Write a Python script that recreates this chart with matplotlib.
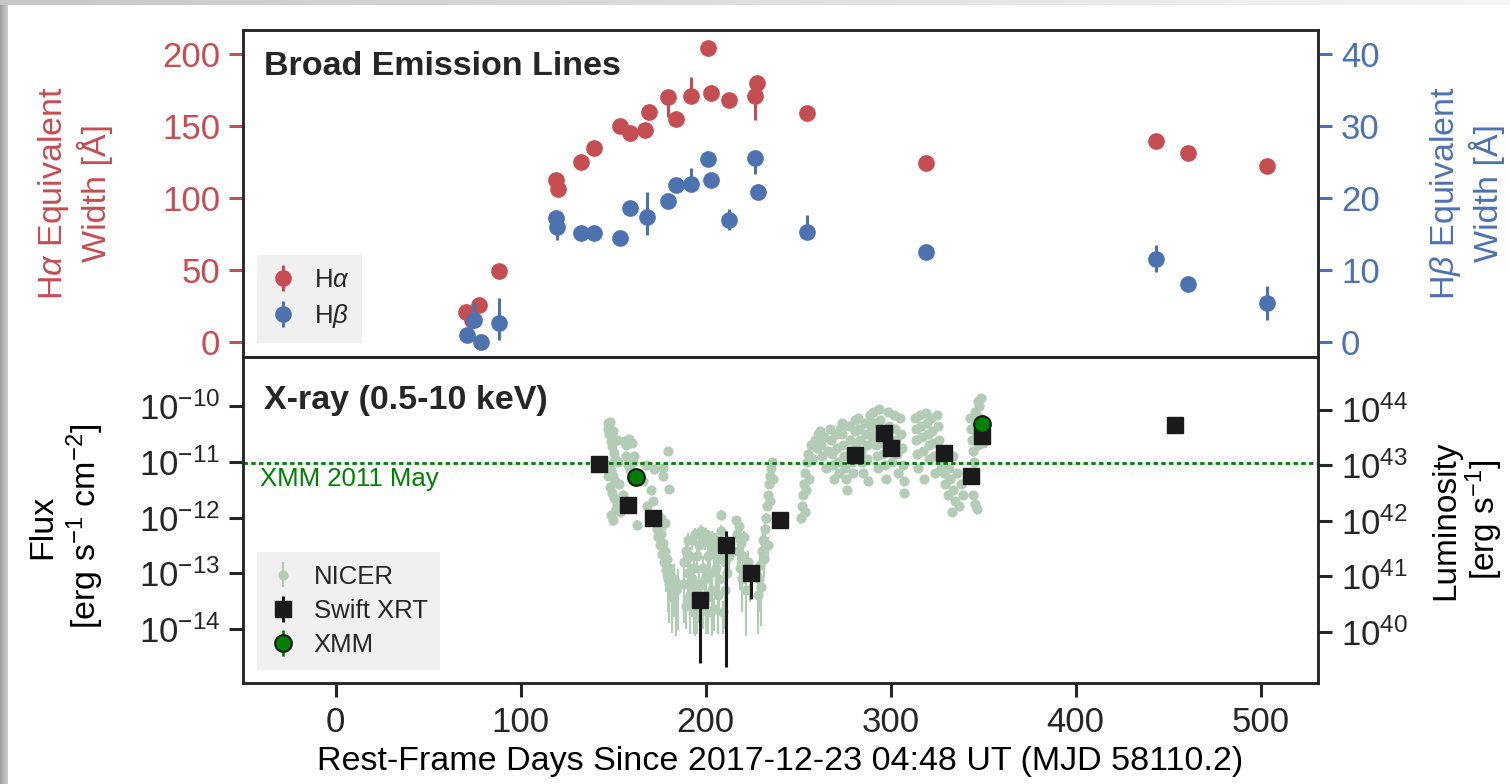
import numpy as np
import matplotlib
matplotlib.use("Agg")
import matplotlib.pyplot as plt
from matplotlib.ticker import FixedLocator, NullLocator

# ---------------- Broad emission lines ----------------
# rest-frame days, equivalent width [A], lower / upper error
ha_day = [70.3, 74.0, 77.8, 88.6, 119.3, 120.0, 132.8, 139.6, 153.5, 159.3,
          167.4, 169.2, 179.8, 184.0, 191.9, 201.3, 202.7, 212.4, 228.0, 226.5,
          254.8, 319.2, 443.5, 461.0, 503.6]
ha_ew = [21, 15, 26, 49, 112.5, 106, 125, 135, 150, 145,
         147, 160, 170, 155, 171, 204, 172.7, 168, 180, 171,
         158.8, 124, 139.6, 131.5, 122.5]
ha_lo = [2, 2, 2, 2, 2, 2, 2, 2, 2, 2,
         2, 2, 14, 2, 2, 2, 2, 2, 2, 17,
         3, 2, 2, 2, 2]
ha_hi = [2, 2, 2, 2, 2, 2, 2, 2, 2, 2,
         3, 2, 2, 5, 13, 2, 2, 2, 2, 2,
         2, 2, 2, 2, 2]

hb_day = [71.2, 75.0, 78.4, 88.6, 119.3, 119.8, 132.8, 139.6, 153.5, 159.3,
          168.3, 179.8, 183.8, 191.9, 201.3, 202.7, 212.6, 226.8, 228.3, 254.8,
          319.2, 443.5, 461.0, 503.6]
hb_ew = [1.0, 3.0, 0.0, 2.6, 17.2, 16.0, 15.2, 15.2, 14.4, 18.6,
         17.4, 19.6, 21.8, 22.0, 25.4, 22.5, 17.0, 25.6, 20.9, 15.3,
         12.5, 11.6, 8.05, 5.4]
hb_lo = [0.5, 1.0, 0.5, 2.3, 1.0, 1.8, 0.7, 0.5, 0.5, 0.5,
         2.5, 0.5, 1.0, 0.5, 0.5, 0.5, 1.5, 2.2, 0.5, 0.5,
         0.8, 1.9, 0.6, 2.4]
hb_hi = [0.5, 2.5, 0.5, 3.5, 1.0, 1.0, 0.7, 0.5, 0.5, 0.5,
         3.5, 0.5, 0.5, 2.2, 0.5, 0.5, 1.5, 1.0, 1.0, 2.3,
         0.8, 1.9, 0.6, 2.4]

# ---------------- X-ray (0.5-10 keV) ----------------
# NICER: day, log10 flux [erg/s/cm^2], fractional flux error
nicer_day = [
    147.0, 147.5, 148.0, 148.5, 149.0, 149.5, 150.0, 150.5, 151.0, 148.0,
    149.0, 150.0, 151.0, 148.5, 149.5, 150.5, 152.0, 151.5, 149.0, 150.0,
    147.5, 152.5, 153.0, 152.0, 153.5,
    156.0, 157.0, 158.5, 160.5, 157.0, 158.0, 159.0, 161.0, 155.5, 163.0,
    161.5, 164.5,
    166.0, 168.0, 170.5, 171.5, 172.4, 173.5, 176.8, 177.0, 179.5, 180.5,
    168.5,
    173.5, 174.0, 174.5, 175.0, 175.5, 176.0, 176.5, 177.0, 177.5, 178.0,
    178.5, 179.0, 179.5, 180.0, 180.5, 181.0, 182.0, 183.0, 184.0, 185.0,
    176.0, 178.0,
    188.5, 188.5, 189.5, 189.5, 190.5, 190.5, 191.5, 191.5, 192.5, 192.5,
    193.5, 193.5, 194.5, 194.5, 195.5, 195.5, 196.5, 196.5, 197.5, 197.5,
    198.5, 198.5, 199.5, 199.5, 200.5, 200.5, 201.5, 201.5, 202.5, 202.5,
    203.5, 203.5, 204.5, 204.5, 205.5, 205.5, 206.5, 206.5, 207.5, 207.5,
    208.5, 208.5, 209.5, 209.5, 210.5, 210.5, 211.5, 211.5, 212.5,
    216.5, 217.0, 217.5, 218.0, 218.5, 219.0, 219.5, 220.0, 221.0, 222.0,
    223.0, 224.0,
    228.5, 229.0, 229.5, 230.0, 230.5, 231.0, 231.5, 232.0, 232.5, 233.0,
    233.5, 234.0, 234.5, 235.0, 235.5, 236.0, 236.5, 235.0,
    251.5, 252.0, 252.5, 253.0, 253.5, 254.0, 254.5, 255.0, 255.5, 256.0,
    257.0, 258.0, 259.0, 260.0, 261.0,
    262.0, 262.5, 263.0, 264.0, 265.0, 266.0,
    267.5, 268.0, 268.5, 269.0, 269.5, 270.5, 271.0, 271.5, 272.0, 272.5,
    273.5, 274.0, 274.5, 275.0, 275.5, 276.0, 276.5, 277.5, 278.0, 278.5,
    279.0, 279.5, 280.5, 281.0, 281.5, 282.0,
    282.5, 283.0, 283.5, 284.0, 284.5, 285.0, 286.0, 286.5, 287.0, 287.5,
    288.0, 289.0, 289.5, 290.0,
    290.5, 291.0, 291.5, 292.0, 292.5, 293.0, 294.0, 294.5, 295.0, 295.5,
    296.0, 297.0, 297.5, 298.5, 299.0, 299.5, 300.0, 301.0, 302.0, 302.5,
    303.0, 303.5, 304.0, 305.0, 305.5, 306.0, 306.5, 307.0, 307.5,
    313.0, 313.5, 314.0, 314.5, 315.0, 316.0, 316.5, 317.0, 317.5, 318.0,
    319.0, 319.5, 320.0, 320.5, 321.0, 322.0, 322.5, 323.0, 323.5, 324.0,
    325.0, 325.5, 326.0, 326.5, 327.0,
    328.0, 328.5, 329.0, 329.5, 330.0, 331.0, 331.5, 332.0, 333.0, 333.5,
    334.0, 335.0, 336.0, 337.0, 338.0, 339.0,
    343.0, 343.5, 344.0, 344.5, 345.0, 345.5, 346.0, 346.5, 347.0, 347.5,
    348.0, 348.5, 349.0, 349.5, 350.0, 344.5, 346.5, 345.5,
]
nicer_logf = [
    -10.30, -10.40, -10.50, -10.28, -10.62, -10.72, -10.45, -10.84, -10.95, -11.05,
    -11.15, -11.25, -11.35, -11.45, -11.55, -11.65, -11.75, -11.85, -11.95, -12.05,
    -11.25, -11.00, -11.40, -10.60, -11.90,
    -10.62, -10.70, -10.58, -10.65, -10.90, -11.05, -11.15, -11.00, -11.60, -12.13,
    -10.90, -11.30,
    -11.35, -11.05, -11.50, -11.70, -11.13, -11.95, -11.10, -11.25, -10.80, -11.49,
    -11.80,
    -12.05, -12.20, -12.35, -12.15, -12.50, -12.30, -12.65, -12.45, -12.80, -12.60,
    -12.95, -12.75, -13.10, -12.90, -13.20, -13.00, -13.25, -13.10, -13.30, -13.20,
    -12.00, -12.10,
    -13.20, -12.80, -13.60, -12.60, -13.00, -12.40, -13.40, -12.70, -12.40, -13.10,
    -13.70, -12.90, -12.30, -13.30, -13.75, -12.70, -12.50, -13.20, -12.25, -13.50,
    -12.90, -13.60, -12.40, -13.10, -12.30, -13.40, -12.70, -13.70, -12.45, -13.00,
    -12.35, -13.30, -12.60, -13.65, -12.40, -12.90, -12.75, -13.40, -12.50, -13.10,
    -11.95, -12.25, -12.60, -13.70, -12.80, -13.30, -12.45, -13.00, -12.70,
    -12.05, -12.30, -12.60, -12.15, -12.90, -12.45, -13.10, -12.70, -12.35, -13.30,
    -12.80, -13.00,
    -13.40, -13.10, -12.85, -13.25, -12.60, -12.40, -12.75, -12.20, -12.00, -11.80,
    -12.50, -11.60, -11.40, -11.25, -11.10, -11.00, -11.30, -11.70,
    -12.00, -11.80, -11.60, -11.40, -11.90, -11.20, -11.50, -11.00, -10.85, -11.30,
    -10.70, -10.95, -10.60, -10.75, -10.50,
    -10.45, -10.70, -10.90, -10.55, -11.10, -10.80,
    -10.40, -10.60, -10.85, -11.05, -11.30, -10.50, -10.75, -11.00, -11.20, -10.40,
    -10.30, -10.50, -10.70, -10.90, -11.10, -11.30, -11.50, -10.35, -10.60, -10.80,
    -11.00, -11.20, -10.25, -10.45, -10.65, -10.90,
    -10.20, -10.40, -10.60, -10.80, -11.00, -11.20, -10.30, -10.50, -10.70, -10.95,
    -11.35, -10.15, -10.35, -10.55,
    -10.10, -10.30, -10.50, -10.70, -10.90, -11.10, -10.05, -10.25, -10.45, -10.65,
    -10.85, -11.05, -11.30, -10.10, -10.35, -10.60, -10.80, -11.00, -10.15, -10.40,
    -10.60, -10.85, -11.20, -10.20, -10.50, -10.75, -11.05, -11.55, -11.35,
    -10.20, -10.40, -10.60, -10.85, -11.10, -10.15, -10.35, -10.55, -10.80, -11.30,
    -10.11, -10.30, -10.50, -10.70, -10.95, -10.20, -10.45, -10.65, -10.90, -11.20,
    -10.15, -10.35, -10.60, -10.85, -11.10,
    -10.80, -11.00, -11.20, -11.40, -10.90, -11.60, -11.10, -11.30, -11.90, -10.90,
    -11.50, -11.70, -11.20, -11.80, -11.40, -11.60,
    -10.20, -10.40, -10.60, -10.80, -11.00, -10.10, -10.30, -10.50, -9.90, -10.70,
    -10.00, -10.20, -9.85, -10.45, -10.65, -11.60, -11.85, -11.75,
]
nicer_frac = [
    0.05, 0.05, 0.05, 0.05, 0.06, 0.06, 0.05, 0.07, 0.07, 0.08,
    0.08, 0.08, 0.10, 0.10, 0.12, 0.12, 0.15, 0.15, 0.18, 0.20,
    0.08, 0.08, 0.10, 0.06, 0.15,
    0.06, 0.06, 0.06, 0.06, 0.07, 0.08, 0.08, 0.08, 0.12, 0.20,
    0.07, 0.10,
    0.10, 0.08, 0.12, 0.15, 0.08, 0.18, 0.08, 0.08, 0.07, 0.12,
    0.15,
    0.20, 0.25, 0.30, 0.25, 0.35, 0.30, 0.40, 0.35, 0.50, 0.40,
    0.60, 0.50, 0.75, 0.60, 0.80, 0.70, 0.85, 0.80, 0.85, 0.85,
    0.20, 0.25,
    0.80, 0.60, 0.60, 0.45, 0.75, 0.35, 0.80, 0.50, 0.35, 0.80,
    0.60, 0.65, 0.30, 0.85, 0.55, 0.50, 0.40, 0.80, 0.30, 0.70,
    0.60, 0.60, 0.35, 0.75, 0.30, 0.80, 0.50, 0.60, 0.35, 0.70,
    0.30, 0.85, 0.45, 0.60, 0.35, 0.60, 0.50, 0.80, 0.40, 0.75,
    0.20, 0.30, 0.45, 0.60, 0.55, 0.80, 0.35, 0.70, 0.50,
    0.20, 0.30, 0.45, 0.25, 0.60, 0.35, 0.75, 0.50, 0.30, 0.85,
    0.55, 0.70,
    0.80, 0.75, 0.60, 0.80, 0.45, 0.35, 0.55, 0.25, 0.20, 0.15,
    0.40, 0.12, 0.10, 0.08, 0.08, 0.07, 0.08, 0.12,
    0.20, 0.15, 0.12, 0.10, 0.15, 0.08, 0.10, 0.07, 0.06, 0.08,
    0.06, 0.07, 0.05, 0.06, 0.05,
    0.05, 0.06, 0.07, 0.05, 0.08, 0.06,
    0.05, 0.05, 0.06, 0.07, 0.08, 0.05, 0.06, 0.07, 0.08, 0.05,
    0.05, 0.05, 0.06, 0.06, 0.07, 0.08, 0.10, 0.05, 0.05, 0.06,
    0.07, 0.08, 0.05, 0.05, 0.06, 0.06,
    0.05, 0.05, 0.05, 0.06, 0.07, 0.08, 0.05, 0.05, 0.06, 0.07,
    0.08, 0.05, 0.05, 0.05,
    0.05, 0.05, 0.05, 0.06, 0.06, 0.07, 0.05, 0.05, 0.05, 0.06,
    0.06, 0.07, 0.08, 0.05, 0.05, 0.05, 0.06, 0.07, 0.05, 0.05,
    0.05, 0.06, 0.08, 0.05, 0.05, 0.06, 0.07, 0.10, 0.08,
    0.05, 0.05, 0.05, 0.06, 0.07, 0.05, 0.05, 0.05, 0.06, 0.08,
    0.05, 0.05, 0.05, 0.06, 0.07, 0.05, 0.05, 0.06, 0.06, 0.08,
    0.05, 0.05, 0.05, 0.06, 0.07,
    0.06, 0.07, 0.08, 0.08, 0.07, 0.10, 0.08, 0.08, 0.15, 0.07,
    0.10, 0.12, 0.08, 0.15, 0.10, 0.12,
    0.05, 0.05, 0.05, 0.06, 0.07, 0.05, 0.05, 0.05, 0.05, 0.06,
    0.05, 0.05, 0.05, 0.05, 0.06, 0.12, 0.15, 0.15,
]

# Swift XRT and XMM fluxes in units of 1e-12 erg/s/cm^2
swift_day = [142.2, 158.0, 171.5, 197.1, 211.2, 224.7, 240.4, 280.9, 296.4, 300.4,
             328.6, 343.6, 349.5, 453.7]
swift_flux = [9.3, 1.66, 1.0, 0.033, 0.316, 0.102, 0.91, 13.5, 34, 18.2,
              14.8, 5.6, 29.5, 46.8]
swift_lo = [0.5, 0.1, 0.06, 0.0306, 0.314, 0.068, 0.05, 0.8, 2, 1,
            0.8, 0.3, 1.5, 2.5]
swift_hi = [0.5, 0.1, 0.06, 0.005, 0.26, 0.02, 0.05, 0.8, 2, 1,
            0.8, 0.3, 1.5, 2.5]

xmm_day = [162.5, 349.5]
xmm_flux = [5.4, 49.0]
xmm_err = [0.2, 1.0]

xmm_2011_flux = 9.5e-12
lum_per_flux = 1.135e54

RED = "#c44e52"
BLUE = "#4c72b0"
NICER_C = "#b3ccb5"
DARK = "#262626"

plt.rcParams.update({
    "font.family": ["Liberation Sans", "DejaVu Sans"],
    "mathtext.fontset": "custom",
    "mathtext.rm": "Liberation Sans",
    "mathtext.it": "Liberation Sans:italic",
    "mathtext.bf": "Liberation Sans:bold",
    "text.color": DARK,
    "axes.edgecolor": DARK,
    "axes.linewidth": 1.8,
    "xtick.color": DARK,
    "ytick.color": DARK,
})

fig = plt.figure(figsize=(15.1, 7.84), dpi=100)
ax_top = fig.add_axes((243 / 1510, 1 - 357 / 784, 1075 / 1510, 327 / 784))
ax_bot = fig.add_axes((243 / 1510, 1 - 683 / 784, 1075 / 1510, 326 / 784),
                      sharex=ax_top)
ax_hb = ax_top.twinx()
ax_lum = ax_bot.twinx()

tick_kw = dict(length=10, width=2.2, labelsize=25, pad=6.5, direction="out")
leg_kw = dict(loc="lower left", fontsize=18.5, frameon=True,
              facecolor="#f0f0f0", edgecolor="none", framealpha=1,
              handlelength=1.0, handletextpad=0.7, borderpad=0.5,
              labelspacing=0.4, borderaxespad=0, fancybox=False)

# top panel: equivalent widths
ha_s = ax_top.errorbar(ha_day, ha_ew, yerr=[ha_lo, ha_hi], fmt="o", ms=11,
                       color=RED, elinewidth=2.2, capsize=0, label=r"H$\alpha$")
hb_s = ax_hb.errorbar(hb_day, hb_ew, yerr=[hb_lo, hb_hi], fmt="o", ms=11,
                      color=BLUE, elinewidth=2.2, capsize=0, label=r"H$\beta$")
ha_lim = (-10.4, 216.7)
ax_top.set_ylim(ha_lim)
ax_hb.set_ylim(ha_lim[0] / 5, ha_lim[1] / 5)
ax_top.set_xlim(-50, 531)
ax_top.set_yticks([0, 50, 100, 150, 200])
ax_hb.set_yticks([0, 10, 20, 30, 40])
ax_top.tick_params(axis="y", colors=RED, **tick_kw)
ax_hb.tick_params(axis="y", colors=BLUE, **tick_kw)
ax_top.tick_params(axis="x", labelbottom=False, **tick_kw)
ax_top.set_ylabel("H$\\alpha$ Equivalent\nWidth [Å]", color=RED, fontsize=24.5)
ax_top.yaxis.set_label_coords(-0.121, 0.5)
ax_hb.set_ylabel("H$\\beta$ Equivalent\nWidth [Å]", color=BLUE, fontsize=24.5)
ax_hb.yaxis.set_label_coords(1.102, 0.5)
ax_top.text(0.02, 0.935, "Broad Emission Lines", transform=ax_top.transAxes,
            fontsize=24.5, fontweight="bold", va="top", ha="left")
ax_hb.legend(handles=[ha_s, hb_s], bbox_to_anchor=(0.013, 0.043), **leg_kw)

# bottom panel: X-ray light curve
nf = 10.0 ** np.array(nicer_logf)
ne = nf * np.array(nicer_frac)
nicer_s = ax_bot.errorbar(nicer_day, nf, yerr=ne, fmt="o", ms=6.3,
                          color=NICER_C, elinewidth=1.6, capsize=0, zorder=1,
                          label="NICER")
ax_bot.axhline(xmm_2011_flux, color="green", ls=(0, (1.6, 1.2)), lw=2.0,
               zorder=2)
ax_bot.text(-41, 8.3e-12, "XMM 2011 May", color="green", fontsize=18.5,
            va="top", ha="left")
sf = np.array(swift_flux) * 1e-12
swift_s = ax_bot.errorbar(swift_day, sf,
                          yerr=[np.array(swift_lo) * 1e-12, np.array(swift_hi) * 1e-12],
                          fmt="s", ms=11, color="#1a1a1a", elinewidth=2.2,
                          capsize=0, zorder=3, label="Swift XRT")
xf = np.array(xmm_flux) * 1e-12
xmm_s = ax_bot.errorbar(xmm_day, xf, yerr=np.array(xmm_err) * 1e-12, fmt="o",
                        ms=12, color="green", mec="#1a1a1a", mew=1.5,
                        elinewidth=2.0, capsize=0, zorder=4, label="XMM")
ax_bot.set_yscale("log")
flux_lim = (1.05e-15, 7.78e-10)
ax_bot.set_ylim(flux_lim)
ax_bot.yaxis.set_major_locator(FixedLocator([1e-14, 1e-13, 1e-12, 1e-11, 1e-10]))
ax_bot.yaxis.set_minor_locator(NullLocator())
ax_lum.set_yscale("log")
ax_lum.set_ylim(flux_lim[0] * lum_per_flux, flux_lim[1] * lum_per_flux)
ax_lum.yaxis.set_major_locator(FixedLocator([1e40, 1e41, 1e42, 1e43, 1e44]))
ax_lum.yaxis.set_minor_locator(NullLocator())
ax_bot.tick_params(axis="both", **tick_kw)
ax_lum.tick_params(axis="y", **tick_kw)
ax_bot.set_xticks([0, 100, 200, 300, 400, 500])
ax_bot.set_ylabel("Flux\n[erg s$^{-1}$ cm$^{-2}$]", fontsize=24.5)
ax_bot.yaxis.set_label_coords(-0.127, 0.48)
ax_lum.set_ylabel("Luminosity\n[erg s$^{-1}$]", fontsize=24, linespacing=1.1)
ax_lum.yaxis.set_label_coords(1.104, 0.5)
ax_bot.set_xlabel("Rest-Frame Days Since 2017-12-23 04:48 UT (MJD 58110.2)",
                  fontsize=24.5, labelpad=5)
ax_bot.text(0.02, 0.915, "X-ray (0.5-10 keV)", transform=ax_bot.transAxes,
            fontsize=24.5, fontweight="bold", va="top", ha="left")
ax_lum.legend(handles=[nicer_s, swift_s, xmm_s], bbox_to_anchor=(0.013, 0.04),
              **leg_kw)

# grey screenshot edges
edge_l = fig.add_axes((0, 0, 7 / 1510, 1))
edge_l.imshow(np.linspace(0.62, 0.8, 16)[None, :], cmap="gray", vmin=0, vmax=1,
              aspect="auto")
edge_l.set_axis_off()
edge_t = fig.add_axes((0, 1 - 5 / 784, 1, 5 / 784))
edge_t.imshow(np.linspace(0.78, 0.96, 64)[None, :], cmap="gray", vmin=0, vmax=1,
              aspect="auto")
edge_t.set_axis_off()

fig.savefig("out.png", dpi=100)
